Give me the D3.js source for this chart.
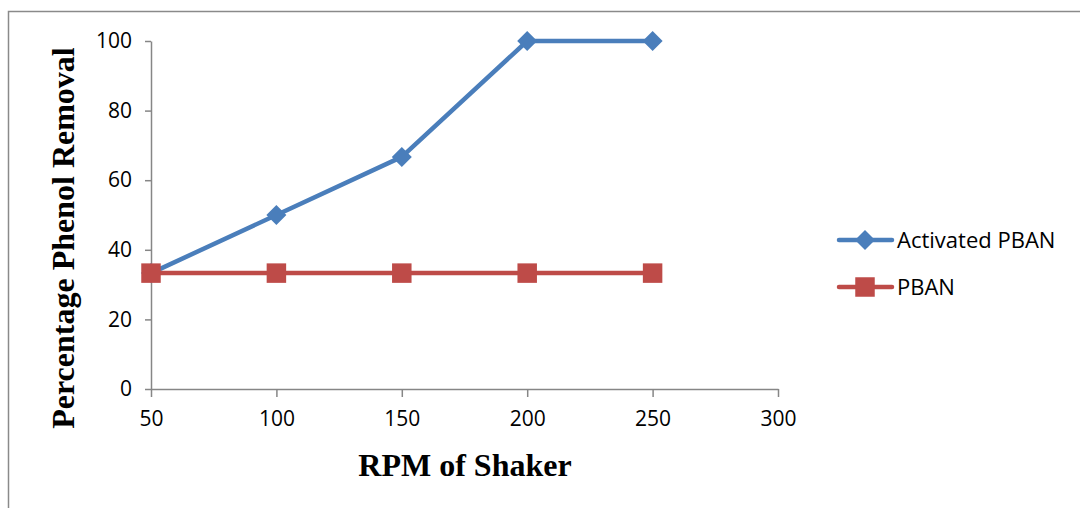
<!DOCTYPE html>
<html lang="en">
<head>
  <meta charset="UTF-8" />
  <title>Phenol Removal vs RPM</title>
  <script src="https://d3js.org/d3.v7.min.js"></script>
  <style>
    body { margin: 0; background: #fff; }
    .tick text { font-family: "Open Sans", "Noto Sans", sans-serif; font-size: 21px; fill: #000; }
    .axis path, .axis line { stroke: #868686; stroke-width: 1.5px; }
    .title { font-family: "Liberation Serif", serif; font-weight: bold; font-size: 32px; }
    .legend text { font-family: "Open Sans", "Noto Sans", sans-serif; font-size: 22px; }
  </style>
</head>
<body>
  <svg width="1080" height="508"></svg>

  <script>
    const rpm = [50, 100, 150, 200, 250];
    const activated = [33.3, 50, 66.7, 100, 100];
    const pban = [33.3, 33.3, 33.3, 33.3, 33.3];
    const xTicks = [50, 100, 150, 200, 250, 300];
    const yTicks = [0, 20, 40, 60, 80, 100];

    const svg = d3.select("svg");

    // outer frame
    svg.append("rect")
      .attr("x", 8.5).attr("y", 11.5)
      .attr("width", 1100).attr("height", 520)
      .attr("fill", "none").attr("stroke", "#8a8a8a").attr("stroke-width", 1.5);

    const x = d3.scaleLinear().domain([50, 300]).range([151, 778]);
    const y = d3.scaleLinear().domain([0, 100]).range([389, 41]);

    svg.append("g").attr("class", "axis")
      .attr("transform", "translate(0,389)")
      .call(d3.axisBottom(x).tickValues(xTicks).tickSize(8).tickSizeOuter(0).tickPadding(14))
      .selectAll("text").attr("dy", "0.71em");

    svg.append("g").attr("class", "axis")
      .attr("transform", "translate(151,0)")
      .call(d3.axisLeft(y).tickValues(yTicks).tickSize(6).tickSizeOuter(0).tickPadding(13));

    const series = [
      { name: "Activated PBAN", values: activated, color: "#4a7ebb", shape: d3.symbolSquare, size: 200, rot: 45 },
      { name: "PBAN", values: pban, color: "#be4b48", shape: d3.symbolSquare, size: 380, rot: 0 }
    ];

    const line = d3.line().x((d, i) => x(rpm[i])).y(d => y(d));

    // PBAN is drawn last, so its square covers the shared point at 50
    series.forEach(s => {
      svg.append("path")
        .datum(s.values)
        .attr("d", line)
        .attr("fill", "none")
        .attr("stroke", s.color)
        .attr("stroke-width", 4.5)
        .attr("stroke-linejoin", "round");
      svg.append("g").selectAll("path")
        .data(s.values)
        .join("path")
        .attr("transform", (d, i) => `translate(${x(rpm[i])},${y(d)}) rotate(${s.rot})`)
        .attr("d", d3.symbol().type(s.shape).size(s.size))
        .attr("fill", s.color);
    });

    // legend
    const legend = svg.append("g").attr("class", "legend");
    series.forEach((s, i) => {
      const ly = 240 + i * 47;
      legend.append("line")
        .attr("x1", 839).attr("x2", 892).attr("y1", ly).attr("y2", ly)
        .attr("stroke", s.color).attr("stroke-width", 4.5).attr("stroke-linecap", "round");
      legend.append("path")
        .attr("transform", `translate(865,${ly}) rotate(${s.rot})`)
        .attr("d", d3.symbol().type(s.shape).size(s.size))
        .attr("fill", s.color);
      legend.append("text")
        .attr("x", 897).attr("y", ly).attr("dy", "0.35em")
        .text(s.name);
    });

    svg.append("text").attr("class", "title")
      .attr("x", 465).attr("y", 476).attr("text-anchor", "middle")
      .text("RPM of Shaker");

    svg.append("text").attr("class", "title")
      .attr("transform", "translate(74,238) rotate(-90)")
      .attr("text-anchor", "middle")
      .text("Percentage Phenol Removal");
  </script>
</body>
</html>
